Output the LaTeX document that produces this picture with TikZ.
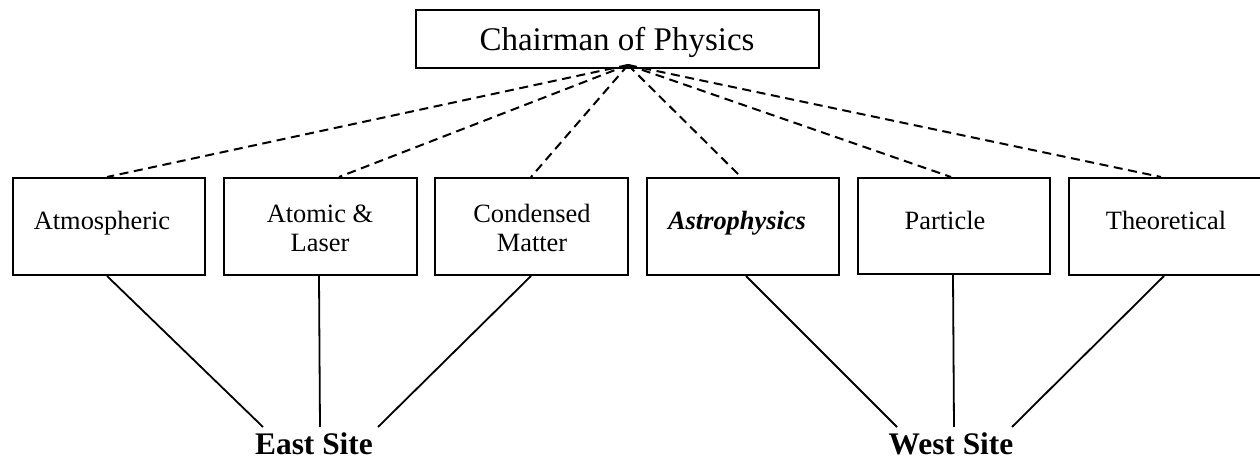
\documentclass[tikz,border=0pt]{standalone}
\usepackage{fontspec}
\setmainfont{Liberation Serif}
\usetikzlibrary{calc}
\begin{document}
\begin{tikzpicture}[x=0.5pt,y=-0.5pt,
  box/.style={draw,line width=1pt,rectangle,inner sep=0pt,minimum height=#1*0.5pt},
  box/.default=97,
  lbl/.style={anchor=base,inner sep=0pt,font=\fontsize{13.2pt}{14.5pt}\selectfont,align=center},
  site/.style={anchor=base,inner sep=0pt,font=\fontsize{15.7pt}{18pt}\selectfont\bfseries},
  dline/.style={line width=1pt,dash pattern=on 4.5pt off 2.8pt},
  sline/.style={line width=0.9pt}]
\useasboundingbox (0,0) rectangle (1260,459);
\clip (0,0) rectangle (1260,459);
% top box
\node[box=58,minimum width=201.5pt] (chair) at (617.5,39) {};
\node[anchor=base,inner sep=0pt,font=\fontsize{16.5pt}{20pt}\selectfont] (chairt) at (617,51) {Chairman of Physics};
\coordinate (hub) at (628,65);
% lower boxes
\node[box,minimum width=96pt] (atm) at (109,226.5) {};
\node[box,minimum width=96.5pt] (ato) at (320.5,226.5) {};
\node[box,minimum width=96.5pt] (con) at (531.5,226.5) {};
\node[box,minimum width=96pt] (ast) at (743,226.5) {};
\node[box=96,minimum width=96pt] (par) at (954,226) {};
\node[box,minimum width=96.5pt] (the) at (1165.5,226.5) {};
% labels
\node[lbl] (atmt) at (102,230) {Atmospheric};
\node[lbl] (atot) at (320,252) {Atomic \&\\Laser};
\node[lbl] (cont) at (532,252) {Condensed\\Matter};
\node[lbl,font=\fontsize{13.2pt}{14.5pt}\selectfont\bfseries\itshape] (astt) at (737,230) {Astrophysics};
\node[lbl] (part) at (945,230) {Particle};
\node[lbl] (thet) at (1166,230) {Theoretical};
% dashed connectors
\draw[dline] (hub) -- ($(atm.north west)+(95,0)$);
\draw[dline] (hub) -- ($(ato.north west)+(116,0)$);
\draw[dline] (hub) -- ($(con.north west)+(97,0)$);
\draw[dline] (hub) -- ($(ast.north west)+(95,0)$);
\draw[dline] (hub) -- ($(par.north west)+(94,0)$);
\draw[dline] (hub) -- ($(the.north west)+(93,0)$);
% sites
\node[site] (east) at (314,455) {East Site};
\node[site] (west) at (951,455) {West Site};
\coordinate (e1) at (263,427);
\coordinate (e2) at (320,427);
\coordinate (e3) at (378,427);
\coordinate (w1) at (897,427);
\coordinate (w2) at (954,427);
\coordinate (w3) at (1012,427);
\draw[sline] ($(atm.south west)+(95,0)$) -- (e1);
\draw[sline] ($(ato.south west)+(96,0)$) -- (e2);
\draw[sline] ($(con.south west)+(97,0)$) -- (e3);
\draw[sline] ($(ast.south west)+(100,0)$) -- (w1);
\draw[sline] ($(par.south west)+(96,0)$) -- (w2);
\draw[sline] ($(the.south west)+(96,0)$) -- (w3);
\end{tikzpicture}
\end{document}
